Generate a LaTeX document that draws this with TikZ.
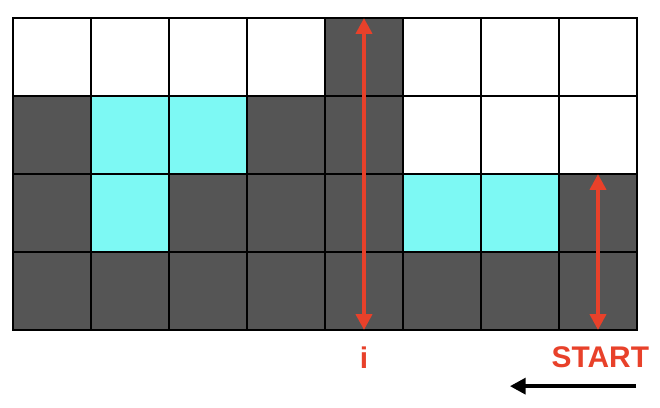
\documentclass[tikz,border=0pt]{standalone}
\usepackage{fontspec}
\setmainfont{Liberation Sans}
\usepackage{xcolor}
\usetikzlibrary{arrows.meta,positioning}
\definecolor{wall}{HTML}{555555}
\definecolor{water}{HTML}{7DF9F4}
\definecolor{markred}{HTML}{E8412A}

\begin{document}
\begin{tikzpicture}[x=1.56cm,y=1.56cm,
  cell/.style={draw=black,line width=0.8pt},
  ptr/.style={markred,line width=2.3pt,{Triangle[length=9pt,width=9pt]}-{Triangle[length=9pt,width=9pt]}},
  dirarrow/.style={black,line width=2.3pt,-{Triangle[length=9pt,width=9pt]}},
  lbl/.style={markred,font=\fontsize{17}{19}\selectfont\bfseries,inner sep=0pt}]
\useasboundingbox (-0.1667,-1.0) rectangle (8.295,4.2308);
% bars, column by column (height of wall in each column)
\foreach \x in {0,...,7} \foreach \y in {0,...,3}
  \draw[cell,fill=white] (\x,\y) rectangle ++(1,1);
\foreach \x/\y in {0/0,1/0,2/0,3/0,4/0,5/0,6/0,7/0,
                   0/1,2/1,3/1,4/1,7/1,
                   0/2,3/2,4/2,
                   4/3}
  \draw[cell,fill=wall] (\x,\y) rectangle ++(1,1);
% trapped water
\foreach \x/\y in {1/1,5/1,6/1,1/2,2/2}
  \draw[cell,fill=water] (\x,\y) rectangle ++(1,1);
% pointers
\coordinate (itop) at (4.5,4);
\coordinate (ibot) at (4.5,0);
\coordinate (stop) at (7.5,2);
\coordinate (sbot) at (7.5,0);
\draw[ptr] (ibot) -- (itop);
\draw[ptr] (sbot) -- (stop);
\node[lbl] (ilbl) at (4.5,-0.35) {i};
\node[lbl] (startlbl) at (7.53,-0.35) {START};
% scan direction
\coordinate (dirtail) at (7.99,-0.72);
\coordinate (dirhead) at (6.37,-0.72);
\draw[dirarrow] (dirtail) -- (dirhead);
\end{tikzpicture}
\end{document}
